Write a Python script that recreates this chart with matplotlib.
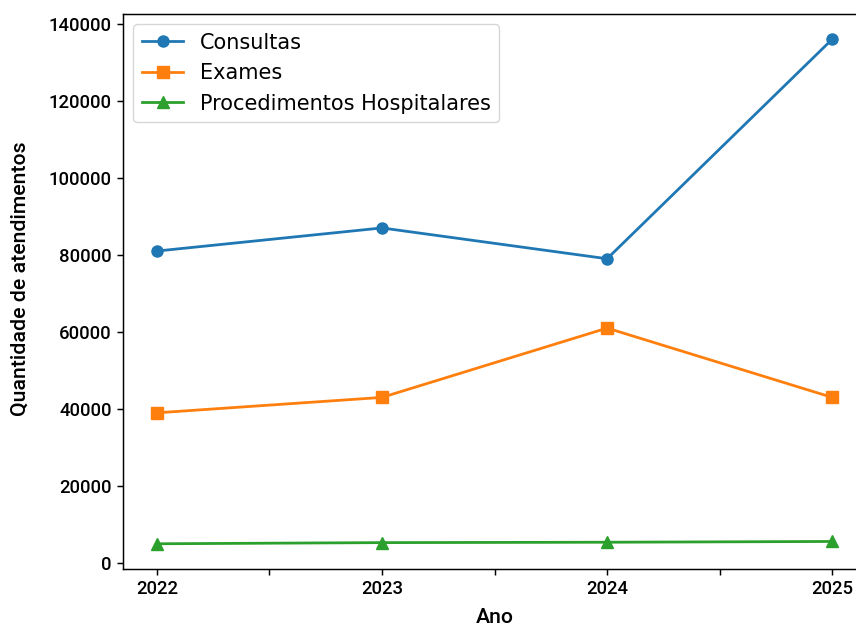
import matplotlib
matplotlib.use("Agg")
import matplotlib.pyplot as plt

anos = [2022, 2023, 2024, 2025]
consultas = [81000, 87000, 79000, 136000]
exames = [39000, 43000, 61000, 43000]
procedimentos = [5000, 5300, 5400, 5600]
xtick_pos = [2022, 2022.5, 2023, 2023.5, 2024, 2024.5, 2025]
xtick_labels = ["2022", "", "2023", "", "2024", "", "2025"]

S = 1.33
fig = plt.figure(figsize=(8.56, 6.27), dpi=100)
ax = fig.add_axes([0.1437, 0.0925, 0.8680, 0.8852])

ax.plot(anos, consultas, marker="o", color="#1f77b4", lw=1.5*S, ms=6*S, label="Consultas")
ax.plot(anos, exames, marker="s", color="#ff7f0e", lw=1.5*S, ms=6*S, label="Exames")
ax.plot(anos, procedimentos, marker="^", color="#2ca02c", lw=1.5*S, ms=6*S, label="Procedimentos Hospitalares")

tickfont = dict(family="Roboto", size=10*S, weight="medium")
labelfont = dict(family="Roboto", size=15.3, weight="medium")
ax.set_xticks(xtick_pos)
ax.set_xticklabels(xtick_labels, fontdict=tickfont)
ax.set_yticks([0, 20000, 40000, 60000, 80000, 100000, 120000, 140000])
ax.set_yticklabels(["0", "20000", "40000", "60000", "80000", "100000", "120000", "140000"], fontdict=tickfont)
ax.tick_params(length=3.5*S, width=0.8*S)
for sp in ax.spines.values():
    sp.set_linewidth(0.8*S)

ax.set_xlabel("Ano", fontdict=labelfont, labelpad=7)
ax.set_ylabel("Quantidade de atendimentos", fontdict=labelfont)
ax.yaxis.set_label_coords(-0.125, 0.5225)

ax.legend(loc="upper left", prop=dict(family="DejaVu Sans", size=15))

fig.savefig("out.png", dpi=100)
